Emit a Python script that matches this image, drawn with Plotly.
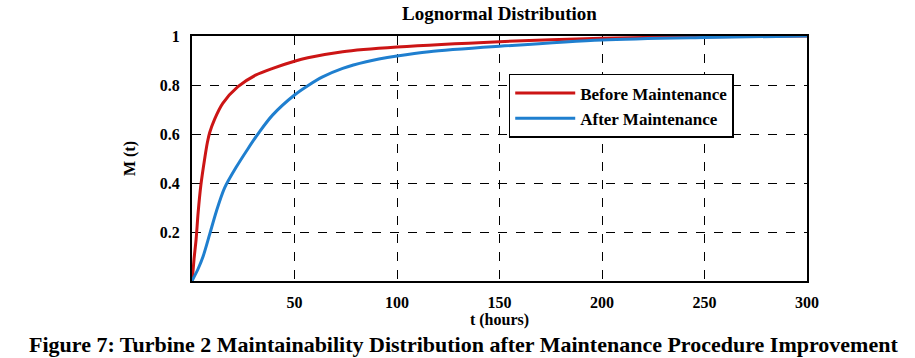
import plotly.graph_objects as go

# Data
red_t = [0, 0.5, 1, 2, 3, 4.3, 6.2, 7.5, 8.6, 11, 15, 22.4, 31, 39.4, 50, 56.5, 73.5, 100, 150, 200, 250, 300]
red_m = [0, 0.04, 0.09, 0.17, 0.28, 0.39, 0.50, 0.565, 0.605, 0.66, 0.725, 0.793, 0.84, 0.868, 0.897, 0.911, 0.936, 0.955, 0.977, 0.991, 0.997, 1.0]

blue_t = [0, 3, 5.4, 8.6, 11.9, 15.9, 21.6, 27.3, 33, 39.4, 50, 56.5, 63.7, 73.5, 85, 100, 115.7, 150, 200, 250, 300]
blue_m = [0, 0.05, 0.10, 0.19, 0.285, 0.38, 0.465, 0.54, 0.61, 0.678, 0.759, 0.797, 0.833, 0.868, 0.895, 0.918, 0.936, 0.958, 0.984, 0.994, 1.0]

x_ticks = [50, 100, 150, 200, 250, 300]
y_ticks = [0.2, 0.4, 0.6, 0.8, 1]
y_tick_text = ["0.2", "0.4", "0.6", "0.8", "1"]

names = ["Before Maintenance", "After Maintenance"]
title_text = "Lognormal Distribution"
x_title = "t (hours)"
y_title = "M (t)"
caption = "Figure 7: Turbine 2 Maintainability Distribution after Maintenance Procedure Improvement"

serif = "Liberation Serif, Times New Roman, serif"

fig = go.Figure()
fig.add_trace(go.Scatter(x=red_t, y=red_m, mode="lines", name=names[0], legendgroup="a",
                         line=dict(color="#cc1515", width=3, shape="spline", smoothing=0.8)))
fig.add_trace(go.Scatter(x=blue_t, y=blue_m, mode="lines", name=names[1], legendgroup="b",
                         line=dict(color="#1f7fcf", width=3, shape="spline", smoothing=0.8)))

axis_common = dict(showgrid=True, gridcolor="black", griddash="dash", gridwidth=1.3,
                   showline=True, linecolor="black", linewidth=2, mirror=True,
                   zeroline=False, ticks="",
                   tickfont=dict(family=serif, size=16, color="black", weight="bold"))

fig.update_xaxes(range=[0, 300], tickvals=x_ticks, ticklabelstandoff=6,
                 title=dict(text=x_title, standoff=4,
                            font=dict(family=serif, size=16, color="black", weight="bold")),
                 **axis_common)
fig.update_yaxes(range=[0, 1], tickvals=y_ticks, ticktext=y_tick_text, ticklabelstandoff=7,
                 title=dict(text=y_title, standoff=20,
                            font=dict(family=serif, size=16, color="black", weight="bold")),
                 **axis_common)

fig.update_layout(
    width=915, height=358,
    margin=dict(l=192, r=108, t=36, b=77),
    paper_bgcolor="white", plot_bgcolor="white",
    title=dict(text=title_text, x=0.5, xref="paper", y=0.964, yanchor="middle",
               font=dict(family=serif, size=19, color="black", weight="bold")),
    legend=dict(x=0.515, y=0.845, xanchor="left", yanchor="top",
                bgcolor="white", bordercolor="black", borderwidth=1.5,
                font=dict(family=serif, size=17, color="black", weight="bold"),
                itemwidth=60, tracegroupgap=0),
    showlegend=True,
)

fig.add_annotation(text=caption, xref="paper", yref="paper", x=0.4407, xanchor="center",
                   y=-0.261, yanchor="middle", showarrow=False,
                   font=dict(family=serif, size=22, color="black", weight="bold"))

fig.write_html("out.html", config={"displayModeBar": False},
               post_script="document.body.style.margin='0px';")
